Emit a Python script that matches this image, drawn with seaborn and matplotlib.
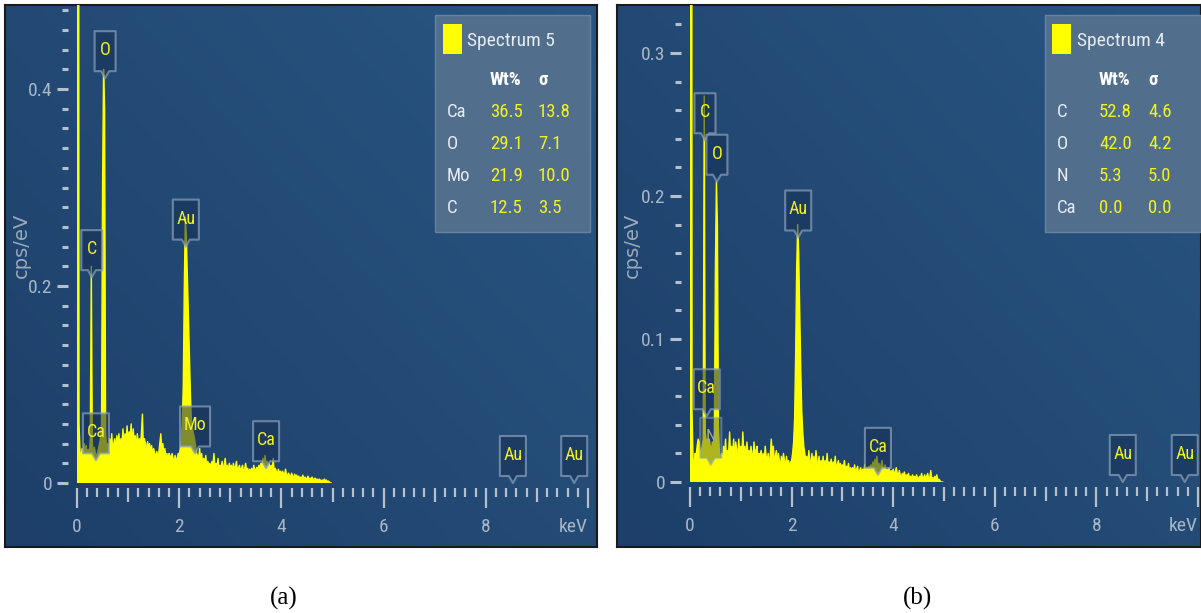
import numpy as np
import matplotlib
matplotlib.use("Agg")
import matplotlib.pyplot as plt
import matplotlib.transforms as mtransforms
from matplotlib.patches import Polygon, Rectangle
import seaborn as sns

# ---------------- data ----------------
E_STEP = 0.02  # keV per channel

counts_a = [
    2.0, 2.0, 0.06, 0.030, 0.028, 0.035, 0.030, 0.040, 0.032, 0.038,
    0.030, 0.034, 0.030, 0.045, 0.22, 0.040, 0.032, 0.036, 0.030, 0.028,
    0.030, 0.035, 0.040, 0.045, 0.060, 0.30, 0.42, 0.38, 0.050, 0.035,
    0.040, 0.030, 0.045, 0.035, 0.050, 0.030, 0.040, 0.045, 0.032, 0.048,
    0.038, 0.050, 0.035, 0.045, 0.040, 0.055, 0.038, 0.050, 0.042, 0.058,
    0.040, 0.052, 0.045, 0.060, 0.038, 0.055, 0.042, 0.048, 0.035, 0.050,
    0.040, 0.045, 0.038, 0.050, 0.070, 0.035, 0.045, 0.040, 0.030, 0.042,
    0.035, 0.040, 0.030, 0.038, 0.028, 0.035, 0.030, 0.025, 0.032, 0.028,
    0.030, 0.040, 0.050, 0.035, 0.040, 0.030, 0.035, 0.025, 0.030, 0.022,
    0.030, 0.028, 0.022, 0.030, 0.025, 0.020, 0.028, 0.022, 0.025, 0.030,
    0.028, 0.035, 0.045, 0.060, 0.10, 0.20, 0.27, 0.25, 0.21, 0.17,
    0.13, 0.090, 0.060, 0.055, 0.050, 0.045, 0.038, 0.030, 0.028, 0.025,
    0.035, 0.022, 0.030, 0.018, 0.025, 0.020, 0.028, 0.015, 0.022, 0.018,
    0.020, 0.015, 0.022, 0.018, 0.030, 0.015, 0.020, 0.016, 0.025, 0.014,
    0.018, 0.015, 0.022, 0.012, 0.018, 0.025, 0.014, 0.018, 0.012, 0.020,
    0.015, 0.018, 0.012, 0.020, 0.014, 0.016, 0.022, 0.012, 0.015, 0.018,
    0.012, 0.015, 0.018, 0.010, 0.014, 0.020, 0.012, 0.015, 0.010, 0.014,
    0.012, 0.015, 0.010, 0.018, 0.012, 0.014, 0.016, 0.012, 0.018, 0.015,
    0.020, 0.018, 0.025, 0.020, 0.028, 0.018, 0.022, 0.015, 0.020, 0.014,
    0.018, 0.012, 0.025, 0.010, 0.015, 0.012, 0.008, 0.014, 0.010, 0.012,
    0.008, 0.012, 0.010, 0.007, 0.014, 0.009, 0.006, 0.010, 0.008, 0.006,
    0.010, 0.007, 0.005, 0.009, 0.006, 0.008, 0.005, 0.007, 0.004, 0.006,
    0.005, 0.008, 0.004, 0.006, 0.005, 0.004, 0.007, 0.003, 0.005, 0.004,
    0.006, 0.003, 0.004, 0.005, 0.003, 0.004, 0.002, 0.004, 0.003, 0.002,
    0.003, 0.002, 0.004, 0.002, 0.003, 0.001, 0.002, 0.001, 0.0, 0.0,
]

counts_b = [
    2.0, 2.0, 0.05, 0.015, 0.012, 0.020, 0.018, 0.025, 0.030, 0.028,
    0.020, 0.022, 0.025, 0.030, 0.27, 0.035, 0.028, 0.030, 0.025, 0.030,
    0.025, 0.022, 0.028, 0.025, 0.035, 0.15, 0.21, 0.18, 0.040, 0.020,
    0.015, 0.020, 0.012, 0.025, 0.018, 0.030, 0.015, 0.022, 0.020, 0.035,
    0.018, 0.025, 0.020, 0.030, 0.015, 0.028, 0.022, 0.018, 0.030, 0.020,
    0.025, 0.018, 0.035, 0.020, 0.025, 0.015, 0.028, 0.020, 0.022, 0.018,
    0.025, 0.020, 0.015, 0.028, 0.018, 0.022, 0.025, 0.015, 0.020, 0.018,
    0.022, 0.015, 0.020, 0.012, 0.025, 0.018, 0.015, 0.020, 0.012, 0.018,
    0.030, 0.020, 0.025, 0.015, 0.018, 0.022, 0.012, 0.020, 0.015, 0.010,
    0.018, 0.012, 0.020, 0.015, 0.010, 0.018, 0.012, 0.015, 0.010, 0.014,
    0.015, 0.020, 0.028, 0.045, 0.090, 0.15, 0.18, 0.16, 0.12, 0.080,
    0.050, 0.035, 0.025, 0.020, 0.015, 0.018, 0.012, 0.022, 0.015, 0.012,
    0.020, 0.012, 0.018, 0.010, 0.022, 0.014, 0.012, 0.018, 0.010, 0.015,
    0.012, 0.018, 0.010, 0.015, 0.012, 0.020, 0.010, 0.014, 0.012, 0.016,
    0.010, 0.014, 0.012, 0.018, 0.008, 0.012, 0.015, 0.010, 0.013, 0.009,
    0.012, 0.010, 0.015, 0.008, 0.011, 0.009, 0.013, 0.007, 0.010, 0.008,
    0.010, 0.007, 0.012, 0.006, 0.009, 0.011, 0.005, 0.008, 0.010, 0.006,
    0.009, 0.007, 0.012, 0.006, 0.010, 0.008, 0.011, 0.007, 0.012, 0.009,
    0.014, 0.010, 0.016, 0.012, 0.018, 0.010, 0.013, 0.008, 0.012, 0.015,
    0.010, 0.007, 0.012, 0.005, 0.009, 0.006, 0.010, 0.004, 0.008, 0.006,
    0.009, 0.005, 0.007, 0.010, 0.006, 0.004, 0.008, 0.005, 0.003, 0.006,
    0.004, 0.007, 0.003, 0.005, 0.004, 0.006, 0.003, 0.004, 0.002, 0.005,
    0.003, 0.004, 0.002, 0.005, 0.003, 0.002, 0.004, 0.003, 0.006, 0.002,
    0.003, 0.005, 0.002, 0.004, 0.006, 0.002, 0.003, 0.008, 0.002, 0.003,
    0.002, 0.004, 0.002, 0.005, 0.001, 0.002, 0.001, 0.0, 0.0, 0.0,
]

title_a = "Spectrum 5"
elements_a = ["Ca", "O", "Mo", "C"]
wt_a = ["36.5", "29.1", "21.9", "12.5"]
sigma_a = ["13.8", "7.1", "10.0", "3.5"]

title_b = "Spectrum 4"
elements_b = ["C", "O", "N", "Ca"]
wt_b = ["52.8", "42.0", "5.3", "0.0"]
sigma_b = ["4.6", "4.2", "5.0", "0.0"]

peaks_a = ["O", "C", "Au", "Ca", "Mo", "Ca", "Au", "Au"]
peak_kev_a = [0.55, 0.29, 2.13, 0.37, 2.31, 3.70, 8.53, 9.73]
peaks_b = ["C", "O", "Au", "Ca", "N", "Ca", "Au", "Au"]
peak_kev_b = [0.295, 0.53, 2.13, 0.33, 0.41, 3.70, 8.52, 9.74]

x_ticks = [0, 1, 2, 3, 4, 5, 6, 7, 8, 9, 10]
x_labels = ["0", "", "2", "", "4", "", "6", "", "8", "", "keV"]
y_ticks_a = [0, 0.2, 0.4]
y_labels_a = ["0", "0.2", "0.4"]
y_ticks_b = [0, 0.1, 0.2, 0.3]
y_labels_b = ["0", "0.1", "0.2", "0.3"]

# ---------------- style / layout ----------------
W, H = 1201, 613
YELLOW = "#ffff00"
TICK = "#b4c0ce"
LABEL = "#a9b6c6"
NARROW = ["Roboto Condensed", "Fira Sans Condensed", "PT Sans Narrow",
          "Roboto", "DejaVu Sans"]

sns.set_style("white")
plt.rcParams["font.family"] = NARROW

fig = plt.figure(figsize=(W / 100, H / 100), dpi=100)
fig.patch.set_facecolor("white")


def frac_rect(x0, y0, x1, y1):
    return [x0 / W, 1 - y1 / H, (x1 - x0) / W, (y1 - y0) / H]


def P(x, y):
    return (x / W, 1 - y / H)


def panel_bg(rect):
    bg = fig.add_axes(rect, zorder=-1)
    ny, nx = 120, 200
    yy, xx = np.mgrid[0:1:ny * 1j, 0:1:nx * 1j]
    t = np.clip(0.55 * xx + 0.45 * yy, 0, 1)[..., None]
    c0 = np.array([0x1d, 0x3f, 0x69]) / 255
    c1 = np.array([0x29, 0x56, 0x82]) / 255
    bg.imshow(c0 + (c1 - c0) * t, extent=[0, 1, 0, 1], origin="lower",
              aspect="auto", interpolation="bilinear")
    bg.set_xticks([]); bg.set_yticks([])
    for s in bg.spines.values():
        s.set_color("#1a1a1a"); s.set_linewidth(1.5)
    return bg


def peak_label(ax, name, kev, tip, faded=False):
    w = 21 if len(name) == 1 else (30 if name == "Mo" else 26)
    h, p = 40, 7
    trans = (mtransforms.Affine2D().scale(1 / 100.) + fig.dpi_scale_trans
             + mtransforms.ScaledTranslation(kev, tip, ax.transData))
    verts = [(0, 0), (4, p), (w / 2, p), (w / 2, p + h), (-w / 2, p + h),
             (-w / 2, p), (-4, p)]
    a = 0.35 if faded else 0.55
    poly = Polygon(verts, closed=True, transform=trans,
                   facecolor=(0.09, 0.19, 0.33, a),
                   edgecolor=(0.55, 0.63, 0.73, 0.55 if faded else 0.7),
                   lw=1.5, joinstyle="round", clip_on=False, zorder=6)
    ax.add_patch(poly)
    ax.text(0, p + h / 2 + 1, name, transform=trans, ha="center", va="center",
            fontsize=13, color="#a3a98c" if faded else "#f2f21e",
            zorder=7, clip_on=False)


def spectrum(rect, counts, yticks, ylabels, ymax, xmax, peaks, kevs, tips, faded):
    ax = fig.add_axes(rect, zorder=1)
    ax.patch.set_alpha(0)
    energy = np.arange(len(counts)) * E_STEP
    ax.fill_between(energy, counts, 0, color=YELLOW, lw=0)
    sns.lineplot(x=energy, y=counts, ax=ax, color=YELLOW, lw=1.0,
                 estimator=None, sort=False, legend=False)
    for name, kev, tip in zip(peaks, kevs, tips):
        peak_label(ax, name, kev, tip, faded=(name in faded))
    ax.set_xlim(0, xmax)
    ax.set_ylim(0, ymax)
    ax.set_xlabel(""); ax.set_ylabel("")
    for s in ax.spines.values():
        s.set_visible(False)
    ax.spines["left"].set_position(("outward", 6.5))
    ax.spines["bottom"].set_position(("outward", 3.6))
    ax.set_xticks(x_ticks)
    ax.set_xticklabels(x_labels)
    ax.set_xticks(np.arange(0, 10.01, 0.2), minor=True)
    ax.set_yticks(yticks)
    ax.set_yticklabels(ylabels)
    ax.set_yticks(np.arange(0, ymax, 0.02), minor=True)
    ax.tick_params(axis="y", which="major", length=8, width=2.2, color=TICK,
                   pad=3, labelsize=14, labelcolor=LABEL, left=True)
    ax.tick_params(axis="y", which="minor", length=4.2, width=2.2, color=TICK, left=True)
    ax.tick_params(axis="x", which="major", length=14.4, width=1.6, color=TICK,
                   pad=7, labelsize=14, labelcolor=LABEL, bottom=True)
    ax.tick_params(axis="x", which="minor", length=6.5, width=1.6, color=TICK, bottom=True)
    for i, tk in enumerate(ax.xaxis.get_major_ticks()):
        if i % 2 == 1:
            tk.tick1line.set_markersize(10)
    ax.get_xticklabels()[-1].set_ha("right")
    return ax


def legend_table(x0, x1, title, elements, wt, sigma, cols):
    ex, vx, sx, sqx, tx = cols
    fig.add_artist(Rectangle(P(x0, 232), (x1 - x0) / W, (232 - 15) / H,
                             transform=fig.transFigure, facecolor="#56728f",
                             edgecolor="#6b87a3", lw=1.0, alpha=0.9, zorder=3))
    fig.add_artist(Rectangle(P(sqx, 54), 19 / W, 30 / H, transform=fig.transFigure,
                             facecolor=YELLOW, edgecolor="none", zorder=4))
    fig.text(*P(tx, 41), title, fontsize=14, color="#e6ecf2", va="center", zorder=5)
    fig.text(*P(vx, 80), "Wt%", fontsize=13.5, color="white", fontweight="bold",
             va="center", zorder=5)
    fig.text(*P(sx, 80), "σ", fontsize=13.5, color="white", fontweight="bold",
             va="center", zorder=5)
    for k, (el, v, s) in enumerate(zip(elements, wt, sigma)):
        y = 112 + k * 32
        fig.text(*P(ex, y), el, fontsize=13.5, color="#e6ecf2", va="center", zorder=5)
        fig.text(*P(vx, y), v, fontsize=13.5, color="#f2f21e", va="center", zorder=5)
        fig.text(*P(sx, y), s, fontsize=13.5, color="#f2f21e", va="center", zorder=5)


# panel (a)
panel_bg(frac_rect(5, 5, 597, 547))
spectrum(frac_rect(77, 5, 597, 483), counts_a, y_ticks_a, y_labels_a,
         0.4853, 10.176, peaks_a, peak_kev_a,
         [0.411, 0.209, 0.240, 0.023, 0.030, 0.015, 0.0, 0.0], faded=[])
legend_table(435, 590, title_a, elements_a, wt_a, sigma_a, (447, 490, 538, 443, 467))
fig.text(*P(21, 245), "cps/eV", rotation=90, fontsize=14, color="#9aa9ba",
         ha="center", va="center", family=["DejaVu Sans"])

# panel (b)
panel_bg(frac_rect(617, 5, 1201, 547))
spectrum(frac_rect(690, 5, 1201, 482), counts_b, y_ticks_b, y_labels_b,
         0.3336, 10.06, peaks_b, peak_kev_b,
         [0.239, 0.210, 0.171, 0.046, 0.012, 0.005, 0.0, 0.0], faded=["N"])
legend_table(1045, 1201, title_b, elements_b, wt_b, sigma_b, (1057, 1099, 1148, 1052, 1077))
fig.text(*P(632, 245), "cps/eV", rotation=90, fontsize=14, color="#9aa9ba",
         ha="center", va="center", family=["DejaVu Sans"])

# captions
fig.text(*P(284, 598), "(a)", fontsize=18, color="black", ha="center", va="center",
         family=["Liberation Serif", "DejaVu Serif"])
fig.text(*P(918, 598), "(b)", fontsize=18, color="black", ha="center", va="center",
         family=["Liberation Serif", "DejaVu Serif"])

fig.savefig("out.png", dpi=100)
